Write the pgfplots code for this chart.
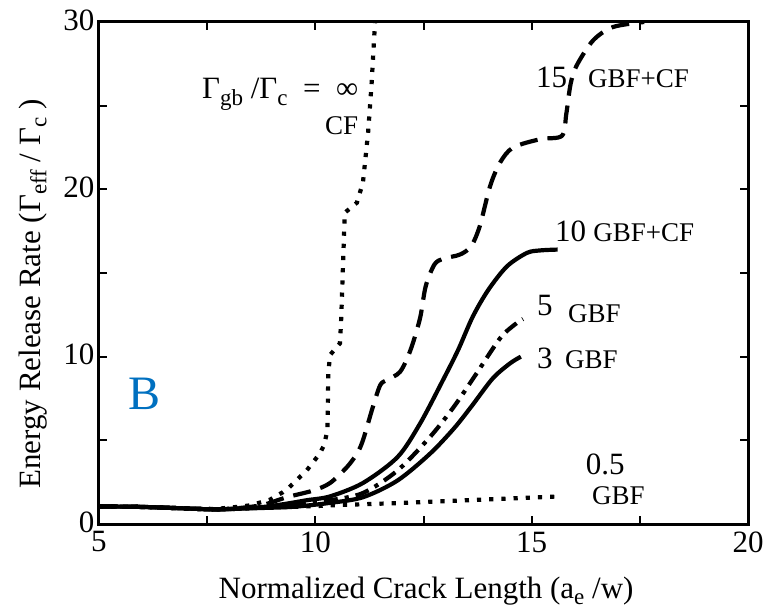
\documentclass[border=0pt]{standalone}
\usepackage{fontspec}
\setmainfont{Liberation Serif}
\usepackage{pgfplots}
\pgfplotsset{compat=1.18}
\definecolor{bblue}{RGB}{0,112,192}
\newcommand{\nfont}{\fontsize{31}{31}\selectfont}
\newcommand{\gfont}{\fontsize{27}{27}\selectfont}
\newcommand{\sub}[1]{\raisebox{-0.45ex}{\fontsize{23}{23}\selectfont #1}}

\begin{document}
\begin{tikzpicture}
\useasboundingbox (-99pt,-84pt) rectangle (668pt,524pt);
\begin{axis}[
    scale only axis,
    width=649pt, height=502pt,
    xmin=5, xmax=20, ymin=0, ymax=30,
    xtick={5,7.5,...,20}, xticklabels={5,,10,,15,,20},
    ytick={0,5,...,30}, yticklabels={0,,10,,20,,30},
    tick align=inside,
    major tick length=8pt,
    every tick/.style={black, line width=2pt},
    axis line style={line width=3pt},
    tick label style={font=\fontsize{31}{31}\selectfont},
    xticklabel style={yshift=-4pt},
    yticklabel style={xshift=-1pt, yshift=2pt},
    label style={font=\fontsize{31}{31}\selectfont},
    xlabel={Normalized Crack Length (a\sub{e} /w)},
    ylabel={Energy Release Rate (Γ\sub{eff} / Γ\sub{c} )},
    xlabel style={at={(axis description cs:0.504,0)}, anchor=base, yshift=-74pt},
    ylabel style={at={(axis description cs:-0.0909,0.458)}, anchor=base},
    every axis plot/.append style={black, line width=4.2pt},
]
% 0.5 GBF
\addplot[smooth, dash pattern=on 4.2pt off 8pt] coordinates {
    (5,1.05) (6,1.02) (7,0.93) (7.7,0.87) (8.3,0.92) (8.8,0.98) (9.5,1.03)
    (10.0,1.07) (10.5,1.13) (11.9,1.25) (13.6,1.43) (15.65,1.65)
};
% 3 GBF
\addplot[smooth] coordinates {
    (5,1.05) (6,1.02) (7,0.93) (7.7,0.87) (8.3,0.92) (8.8,0.96) (9.5,1.03)
    (10.3,1.25) (11.1,1.6) (11.9,2.6) (12.65,4.2) (13.2,5.7) (13.6,7.0)
    (14.1,8.7) (14.5,9.6) (14.75,10.0)
};
% 5 GBF
\addplot[smooth, dash pattern=on 14pt off 7pt on 4.2pt off 7pt] coordinates {
    (5,1.05) (6,1.02) (7,0.93) (7.7,0.87) (8.3,0.93) (8.8,0.99) (9.5,1.1)
    (10.3,1.4) (11.1,1.85) (11.9,3.2) (12.65,5.2) (13.2,7.0) (13.7,8.9)
    (14.27,11.1) (14.6,11.9) (14.8,12.25)
};
% 10 GBF+CF
\addplot[smooth] coordinates {
    (5,1.05) (6,1.02) (7,0.93) (7.7,0.87) (8.3,0.94) (8.8,1.02) (9.3,1.2)
    (9.8,1.42) (10.34,1.65) (11.1,2.45) (11.9,4.0) (12.42,6.0) (12.95,8.6)
    (13.3,10.4) (13.64,12.4) (14.0,14.0) (14.43,15.4) (14.89,16.2)
    (15.2,16.35) (15.6,16.4)
};
% 15 GBF+CF
\addplot[smooth, tension=0.5, dash pattern=on 18pt off 10pt] coordinates {
    (5,1.05) (6,1.02) (7,0.93) (7.7,0.88) (8.3,0.97) (8.8,1.15) (9.34,1.6)
    (9.95,2.0) (10.34,2.45) (10.73,3.4) (10.96,4.2) (11.1,5.0) (11.33,7.0)
    (11.5,8.3) (11.65,8.6) (11.96,9.1) (12.2,10.4) (12.42,12.3) (12.55,14.2)
    (12.75,15.5) (12.95,15.85) (13.34,16.1) (13.6,16.6) (13.8,17.8)
    (14.04,20.2) (14.27,21.6) (14.57,22.5) (15.2,23.0) (15.7,23.2)
    (15.8,24.5) (15.9,26.3) (16.04,27.4) (16.42,28.9) (16.88,29.7) (17.6,30)
};
% infinity CF
\addplot[dash pattern=on 4.2pt off 8pt] coordinates {
    (5,1.05) (6,1.02) (7,0.93) (7.7,0.9) (8.3,1.05) (8.5,1.12) (8.95,1.45)
    (9.25,1.9) (9.4,2.2) (9.8,3.2) (10.1,4.2) (10.2,4.7) (10.28,5.6)
    (10.3,9.0) (10.34,10.1) (10.57,10.8) (10.6,12.4) (10.68,18.6)
    (10.96,19.2) (11.1,20.4) (11.22,23.4) (11.3,26.3) (11.38,30)
};

\node[anchor=base west, inner sep=0pt, font=\nfont] at (axis cs:7.38,25.4)
    {Γ\sub{gb} /Γ\sub{c}\ \ =\ \ ∞};
\node[anchor=base west, inner sep=0pt, font=\gfont] at (axis cs:10.22,23.25) {CF};
\node[anchor=base west, inner sep=0pt, font=\nfont] at (axis cs:15.1,26.06) {15};
\node[anchor=base west, inner sep=0pt, font=\gfont] at (axis cs:16.3,26.06) {GBF+CF};
\node[anchor=base west, inner sep=0pt, font=\nfont] at (axis cs:15.54,16.86) {10};
\node[anchor=base west, inner sep=0pt, font=\gfont] at (axis cs:16.42,16.86) {GBF+CF};
\node[anchor=base west, inner sep=0pt, font=\nfont] at (axis cs:15.12,12.49) {5};
\node[anchor=base west, inner sep=0pt, font=\gfont] at (axis cs:15.84,12.07) {GBF};
\node[anchor=base west, inner sep=0pt, font=\nfont] at (axis cs:15.12,9.32) {3};
\node[anchor=base west, inner sep=0pt, font=\gfont] at (axis cs:15.77,9.32) {GBF};
\node[anchor=base west, inner sep=0pt, font=\nfont] at (axis cs:16.25,2.93) {0.5};
\node[anchor=base west, inner sep=0pt, font=\gfont] at (axis cs:16.39,1.14) {GBF};
\node[anchor=base west, inner sep=0pt, text=bblue, font=\fontsize{48}{48}\selectfont]
    at (axis cs:5.67,6.87) {B};
\end{axis}
\end{tikzpicture}
\end{document}
